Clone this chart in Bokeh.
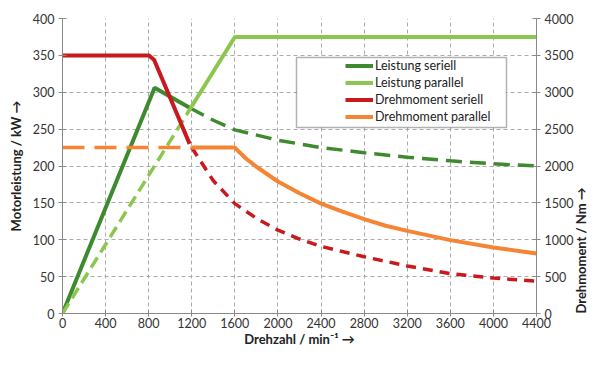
import math
from bokeh.plotting import figure
from bokeh.models import (Range1d, LinearAxis, Legend, LegendItem, BoxAnnotation,
                          FixedTicker)
from bokeh.embed import file_html
from bokeh.resources import INLINE

# ---- data ----
x_ticks = [0, 400, 800, 1200, 1600, 2000, 2400, 2800, 3200, 3600, 4000, 4400]
p_ticks = [0, 50, 100, 150, 200, 250, 300, 350, 400]
t_ticks = [0, 500, 1000, 1500, 2000, 2500, 3000, 3500, 4000]

# Leistung seriell (kW)
ls_solid_x = [0, 855, 1180]
ls_solid_y = [0, 306, 279]
ls_dash_x = [1180, 1400, 1600, 2000, 2400, 2800, 3200, 3600, 4000, 4400]
ls_dash_y = [279, 262, 249, 235, 225, 218, 212, 207, 203, 200]

# Leistung parallel (kW)
lp_dash_x = [0, 1200]
lp_dash_y = [0, 281]
lp_solid_x = [1200, 1600, 4400]
lp_solid_y = [281, 375, 375]

# Drehmoment seriell (Nm)
ds_solid_x = [0, 800, 850, 1180]
ds_solid_y = [3500, 3500, 3440, 2300]
ds_dash_x = [1200, 1400, 1600, 1800, 2000, 2200, 2400, 2800, 3200, 3600, 4000, 4400]
ds_dash_y = [2250, 1800, 1490, 1290, 1130, 1010, 910, 770, 645, 540, 480, 437]

# Drehmoment parallel (Nm)
dp_dash_x = [0, 1200]
dp_dash_y = [2250, 2250]
dp_solid_x = [1200, 1600, 1700, 1800, 2000, 2200, 2400, 2600, 2800, 3000, 3200, 3600, 4000, 4400]
dp_solid_y = [2250, 2250, 2105, 1990, 1790, 1630, 1490, 1380, 1280, 1190, 1120, 995, 895, 815]

series_labels = ["Leistung seriell", "Leistung parallel", "Drehmoment seriell", "Drehmoment parallel"]
x_title = "Drehzahl / min\u207b\u00b9 \u2192"
yl_title = "Motorleistung / kW \u2192"
yr_title = "Drehmoment / Nm \u2192"

DG = "#3e8a2f"
LG = "#8bc74f"
RD = "#c8191e"
OR = "#f58535"
FONT = "Lato"
AX = "#8a8a8a"

p = figure(width=600, height=349, output_backend="svg", toolbar_location=None,
           x_range=Range1d(0, 4400), y_range=Range1d(0, 400),
           min_border_left=62, min_border_right=52, min_border_top=18, min_border_bottom=33)
p.outline_line_color = None
p.extra_y_ranges = {"tq": Range1d(0, 4000)}

for g in (p.xgrid[0], p.ygrid[0]):
    g.grid_line_color = "#ababab"
    g.grid_line_dash = "4 3"
    g.grid_line_width = 1

def style_axis(ax, title):
    ax.axis_label = title
    ax.axis_line_color = AX
    ax.major_tick_line_color = AX
    ax.minor_tick_line_color = None
    ax.major_tick_out = 4
    ax.major_tick_in = 4
    ax.major_label_text_font = FONT
    ax.major_label_text_font_size = "12.5px"
    ax.major_label_text_color = "#333333"
    ax.axis_label_text_font = FONT
    ax.axis_label_text_font_size = "13px"
    ax.axis_label_text_font_style = "bold"
    ax.axis_label_text_color = "#222222"

p.xaxis.ticker = FixedTicker(ticks=x_ticks)
p.yaxis.ticker = FixedTicker(ticks=p_ticks)
style_axis(p.xaxis[0], x_title)
style_axis(p.yaxis[0], yl_title)
p.xaxis.major_tick_out = 3
p.xaxis.major_label_standoff = 1
p.xaxis.axis_label_standoff = 0
p.yaxis.major_label_standoff = 4
p.yaxis.axis_label_standoff = 6

rax = LinearAxis(y_range_name="tq", ticker=FixedTicker(ticks=t_ticks))
style_axis(rax, yr_title)
rax.major_label_standoff = 4
rax.axis_label_standoff = 5
if "axis_label_orientation" in rax.properties():
    rax.axis_label_orientation = math.pi / 2
if "axis_label_align" in rax.properties():
    rax.axis_label_align = "start"
p.add_layout(rax, "right")

# series
r_ls = p.line(ls_solid_x, ls_solid_y, line_color=DG, line_width=4)
p.line(ls_dash_x, ls_dash_y, line_color=DG, line_width=3.5, line_dash="16 8")

p.line(lp_dash_x, lp_dash_y, line_color=LG, line_width=3.5, line_dash="12 6")
r_lp = p.line(lp_solid_x, lp_solid_y, line_color=LG, line_width=4)

r_ds = p.line(ds_solid_x, ds_solid_y, line_color=RD, line_width=4, y_range_name="tq")
p.line(ds_dash_x, ds_dash_y, line_color=RD, line_width=3.5, line_dash="10 7", y_range_name="tq")

p.line(dp_dash_x, dp_dash_y, line_color=OR, line_width=3.5, line_dash="22 10", y_range_name="tq")
r_dp = p.line(dp_solid_x, dp_solid_y, line_color=OR, line_width=4, y_range_name="tq")

# legend box
box = BoxAnnotation(left=234, right=444, bottom=186, top=256,
                    left_units="screen", right_units="screen",
                    bottom_units="screen", top_units="screen",
                    fill_color="white", fill_alpha=1.0,
                    line_color="black", line_width=1.5)
p.add_layout(box)

legend = Legend(items=[
    LegendItem(label=series_labels[0], renderers=[r_ls]),
    LegendItem(label=series_labels[1], renderers=[r_lp]),
    LegendItem(label=series_labels[2], renderers=[r_ds]),
    LegendItem(label=series_labels[3], renderers=[r_dp]),
], location=(283, 188), margin=0, padding=0, spacing=0,
    glyph_width=28, glyph_height=17, label_height=17, label_standoff=2,
    border_line_color=None, background_fill_alpha=0,
    label_text_font=FONT, label_text_font_size="12.5px", label_text_color="#222222")
p.add_layout(legend)

open("out.html", "w").write(file_html(p, INLINE))
